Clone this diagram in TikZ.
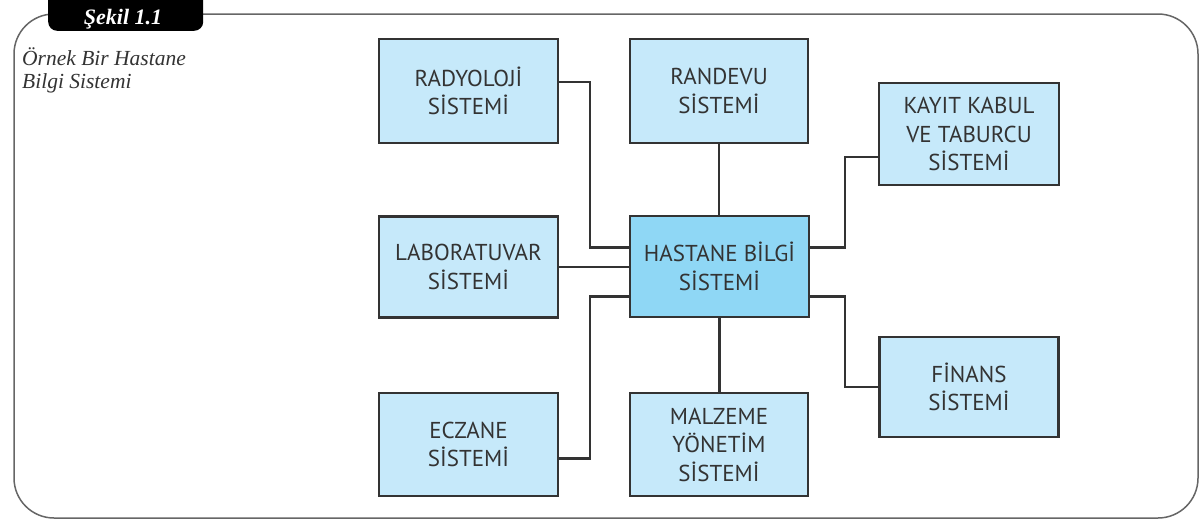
\documentclass[tikz,border=0pt]{standalone}
\usepackage{fontspec}
\setmainfont{Liberation Serif}
\newfontfamily\boxfont{PT Sans}
\definecolor{boxfill}{HTML}{C6E9FA}
\definecolor{hubfill}{HTML}{8FD7F5}
\definecolor{edgecol}{HTML}{333333}
\definecolor{framecol}{HTML}{666666}
\begin{document}
\begin{tikzpicture}[x=1pt,y=-1pt,
  sysbox/.style={draw=edgecol, line width=2.5pt, fill=boxfill, minimum width=179pt,
    minimum height=103pt, align=center, inner sep=0pt, text=edgecol,
    font=\boxfont\fontsize{23}{28.5}\selectfont},
  link/.style={draw=edgecol, line width=2.3pt},
  frame/.style={draw=framecol, line width=1.5pt, rounded corners=40pt}]
\useasboundingbox (0,0) rectangle (1199,522);
\draw[frame] (14,14) rectangle (1198,518);
\node[fill=black, rounded corners=9pt, minimum width=155pt, minimum height=40pt,
  anchor=south west, text=white, inner sep=0pt] (tab) at (48,31) {};
\node[text=white, font=\bfseries\itshape\fontsize{22}{22}\selectfont, anchor=base, inner sep=0pt]
  (tabtext) at (123,24) {Şekil 1.1};
\node[anchor=north west, align=left, inner sep=0pt,
  font=\itshape\fontsize{21.5}{23.5}\selectfont, text=black!80] (cap) at (22,47)
  {Örnek Bir Hastane\\Bilgi Sistemi};
% boxes
\node[sysbox, minimum height=104pt] (rad) at (468.5,91) {RADYOLOJİ\\SİSTEMİ};
\node[sysbox, minimum width=178pt, minimum height=104pt] (ran) at (719,91) {RANDEVU\\SİSTEMİ};
\node[sysbox, minimum width=180pt, minimum height=102pt] (kay) at (969,134) {KAYIT KABUL\\VE TABURCU\\SİSTEMİ};
\node[sysbox, minimum height=101pt] (lab) at (468.5,267) {LABORATUVAR\\SİSTEMİ};
\node[sysbox, fill=hubfill, minimum height=101pt] (hub) at (719.5,266.5) {HASTANE BİLGİ\\SİSTEMİ};
\node[sysbox] (ecz) at (468.5,444.5) {ECZANE\\SİSTEMİ};
\node[sysbox, minimum width=178pt] (mal) at (719,444.5) {MALZEME\\YÖNETİM\\SİSTEMİ};
\node[sysbox, minimum height=100pt] (fin) at (969,387) {FİNANS\\SİSTEMİ};
% connectors
\draw[link] ([yshift=9pt]rad.east) -- (590,82) |- ([yshift=19pt]hub.west);
\draw[link] (lab.east) -- (lab.east -| hub.west);
\draw[link] ([yshift=-14pt]ecz.east) -- (590,458.5) |- ([yshift=-30pt]hub.west);
\draw[link] (ran.south) -- (ran.south |- hub.north);
\draw[link] (hub.south) -- (hub.south |- mal.north);
\draw[link] ([yshift=19pt]hub.east) -- (845,247.5) |- ([yshift=-23pt]kay.west);
\draw[link] ([yshift=-30pt]hub.east) -- (845,296.5) |- (fin.west);
\end{tikzpicture}
\end{document}
